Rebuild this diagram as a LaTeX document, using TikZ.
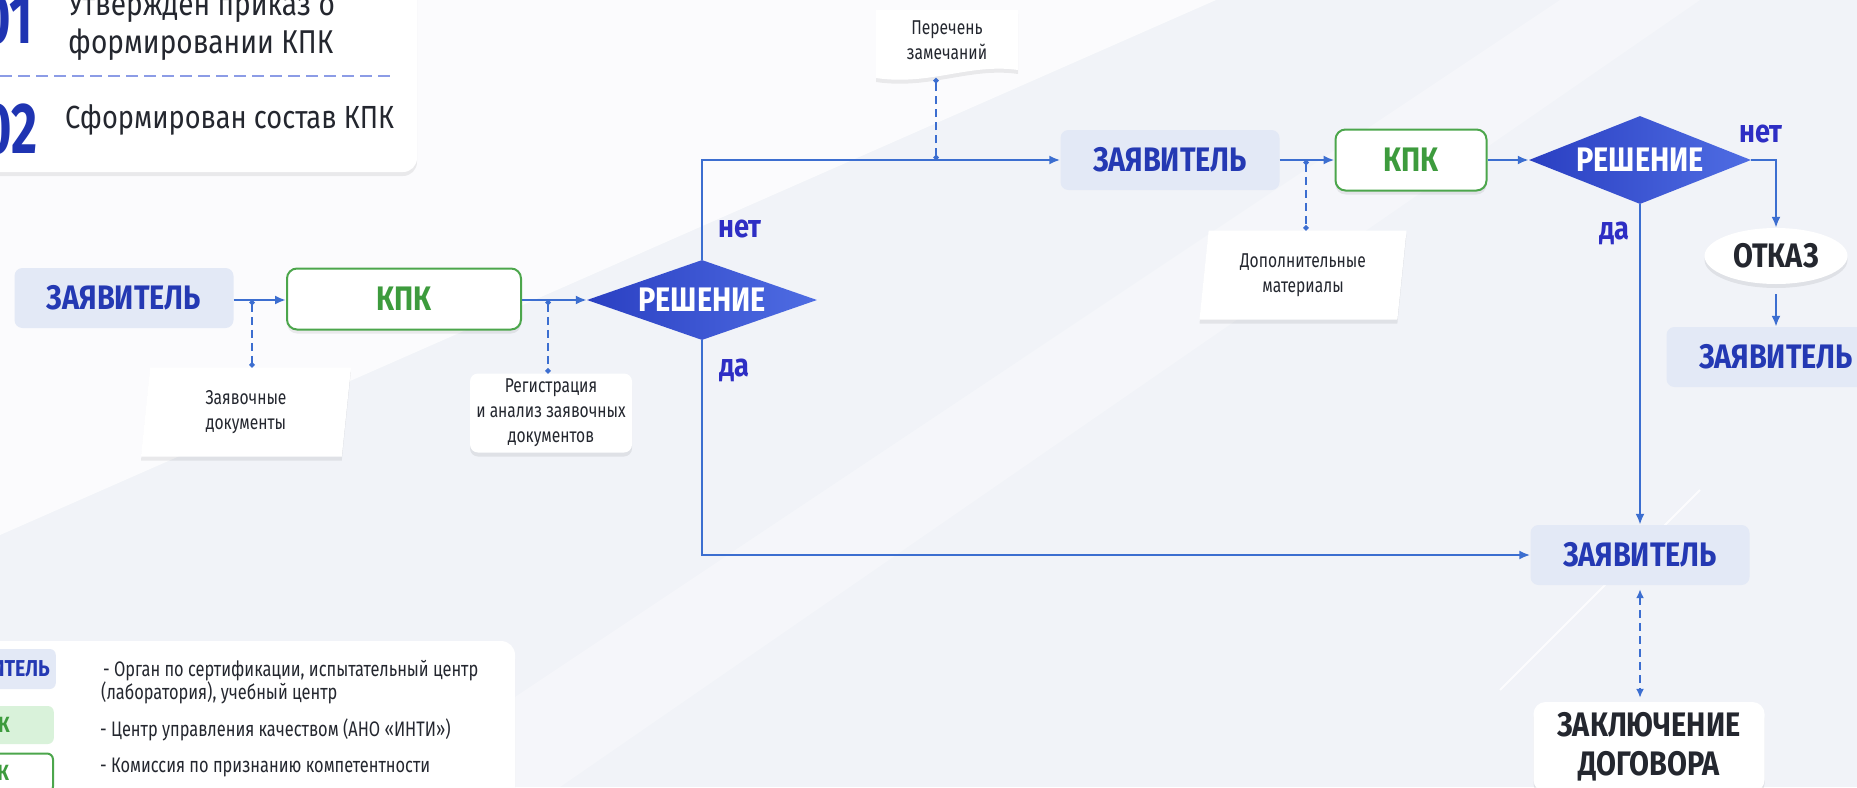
\documentclass[tikz,border=0pt]{standalone}
\usepackage{fontspec}
\setmainfont{Fira Sans}[FakeStretch=0.85]
\newfontfamily\narrowf{Fira Sans}[FakeStretch=0.78]
\newfontfamily\numf{Fira Sans}[FakeStretch=0.7]
\usetikzlibrary{shapes.geometric,arrows.meta,calc,shadows}
\definecolor{bgc}{HTML}{F1F3F8}
\definecolor{zfill}{HTML}{E3E9F6}
\definecolor{ztext}{HTML}{2439B3}
\definecolor{kgreen}{HTML}{4CA64C}
\definecolor{ktext}{HTML}{3D9B3D}
\definecolor{lineb}{HTML}{3C6ED0}
\definecolor{dleft}{HTML}{2A3FC2}
\definecolor{dright}{HTML}{4F6DE3}
\definecolor{yntxt}{HTML}{2E2EC4}
\definecolor{dark}{HTML}{24272F}
\definecolor{lgreen}{HTML}{D9F2DA}
\definecolor{dashc}{HTML}{8C9CE6}
\definecolor{numc}{HTML}{1F34B2}
\tikzset{
  shadowed/.style={drop shadow={shadow xshift=0pt,shadow yshift=-4pt,opacity=0.07,fill=black}},
  boldtxt/.style={font=\fontsize{34}{40}\selectfont\bfseries},
  zbox/.style={boldtxt, fill=zfill, text=ztext, rounded corners=8pt, minimum width=219pt, minimum height=60pt, inner sep=0pt},
  kbox/.style={boldtxt, draw=kgreen, line width=2pt, fill=white, text=ktext, rounded corners=10pt, minimum height=61pt, inner sep=0pt, shadowed},
  dec/.style={diamond, boldtxt, text=white, left color=dleft, right color=dright, inner sep=0pt, aspect=2.8},
  para/.style={trapezium, trapezium left angle=78, trapezium right angle=102, trapezium stretches body, fill=white, shadowed, inner sep=0pt, minimum height=89pt, minimum width=190pt},
  note/.style={font=\narrowf\fontsize{20}{25}\selectfont, text=dark, align=center},
  flow/.style={draw=lineb, line width=2.6pt, -{Latex[length=11pt,width=9pt]}},
  attach/.style={draw=lineb, line width=2.4pt, dash pattern=on 8pt off 5pt, {Circle[length=5pt]}-{Circle[length=5pt]}},
  attach2/.style={draw=lineb, line width=2.4pt, dash pattern=on 8pt off 5pt, {Latex[length=9pt,width=8pt]}-{Latex[length=9pt,width=8pt]}},
  yn/.style={text=yntxt, font=\fontsize{32}{36}\selectfont\bfseries},
  wbox/.style={fill=white, rounded corners=8pt, shadowed, inner sep=0pt},
  legtxt/.style={font=\narrowf\fontsize{21}{23}\selectfont, text=dark, align=left, anchor=west, inner sep=0pt},
  cardtxt/.style={font=\fontsize{33}{38}\selectfont, text=dark, anchor=base west, inner sep=0pt},
  numtxt/.style={font=\numf\fontsize{72}{72}\selectfont\bfseries, text=numc, anchor=base east, inner sep=0pt},
}
\begin{document}
\begin{tikzpicture}[x=1pt,y=-1pt]
\useasboundingbox (0,0) rectangle (1857,787);
\clip (0,0) rectangle (1857,787);
% background
\fill[bgc] (0,0) rectangle (1857,787);
\fill[white, opacity=0.75] (0,0) -- (1216,0) -- (0,535) -- cycle;
\fill[white, opacity=0.3] (380,787) -- (1560,0) -- (1700,0) -- (560,787) -- cycle;
\draw[white, line width=2pt, opacity=0.8] (1500,690) -- (1700,490);

% top-left card
\fill[white, rounded corners=14pt, shadowed] (-30,-30) rectangle (417,172);
\node[numtxt] (n1) at (33,43) {01};
\node[cardtxt] (c1a) at (68,15) {Утвержден приказ о};
\node[cardtxt] (c1b) at (68,53) {формировании КПК};
\draw[dashc, line width=2.5pt, dash pattern=on 12pt off 6pt] (0,76) -- (392,76);
\node[numtxt] (n2) at (38,153) {02};
\node[cardtxt, font=\fontsize{32}{38}\selectfont] (c2) at (65,128) {Сформирован состав КПК};

% legend card
\fill[white, rounded corners=14pt, shadowed] (-30,641) rectangle (515,830);
\node[zbox, font=\fontsize{23}{24}\selectfont\bfseries, minimum width=0pt, minimum height=40pt, text width=200pt, align=right, inner xsep=6pt, rounded corners=6pt, anchor=east] (leg1) at (56,669) {ЗАЯВИТЕЛЬ};
\node[fill=lgreen, text=ktext, font=\fontsize{22}{24}\selectfont\bfseries, minimum height=38pt, text width=100pt, align=right, inner xsep=44pt, inner ysep=0pt, rounded corners=6pt, anchor=east] (leg2) at (54,725) {КПК};
\node[draw=kgreen, line width=2pt, fill=white, text=ktext, font=\fontsize{22}{24}\selectfont\bfseries, minimum height=39pt, text width=100pt, align=right, inner xsep=44pt, inner ysep=0pt, rounded corners=6pt, anchor=east] (leg3) at (54,773) {КПК};
\node[legtxt] (lt1) at (101,682) {\hspace*{2pt}- Орган по сертификации, испытательный центр\\(лаборатория), учебный центр};
\node[legtxt] (lt2) at (100,730) {- Центр управления качеством (АНО «ИНТИ»)};
\node[legtxt] (lt3) at (100,767) {- Комиссия по признанию компетентности};

% row 1
\node[zbox] (z1) at (124,298) {ЗАЯВИТЕЛЬ};
\node[kbox, minimum width=234pt] (k1) at (404,299) {КПК};
\node[dec, minimum width=230pt, minimum height=80pt] (d1) at (702,300) {РЕШЕНИЕ};
\node[para, note, minimum width=210pt] (p1) at (246,412) {Заявочные\\документы};
\node[wbox, note, minimum width=162pt, minimum height=79pt] (r1) at (551,413) {Регистрация\\и анализ заявочных\\документов};

\coordinate (a1) at (252,300);
\coordinate (a2) at (548,300);
\draw[flow] (z1.east |- a1) -- (k1.west |- a1);
\draw[flow] (k1.east |- a2) -- (d1.west);
\draw[attach] (a1) -- (a1 |- p1.north);
\draw[attach] (a2) -- (a2 |- r1.north);

% row 2
\fill[white, shadowed] (876,10) -- (1018,10) -- (1018,70) .. controls (970,63) and (930,86) .. (876,78) -- cycle;
\node[note, minimum width=142pt, minimum height=76pt, inner sep=0pt] (per) at (947,40) {Перечень\\замечаний};
\node[zbox] (z2) at (1170,160) {ЗАЯВИТЕЛЬ};
\node[kbox, minimum width=151pt] (k2) at (1411,160) {КПК};
\node[dec, minimum width=222pt, minimum height=88pt] (d2) at (1640,160) {РЕШЕНИЕ};
\node[para, note, minimum width=207pt] (p2) at (1303,275) {Дополнительные\\материалы};
\node[ellipse, fill=white, shadowed, minimum width=143pt, minimum height=56pt, inner sep=0pt, text=dark, font=\fontsize{34}{36}\selectfont\bfseries] (otk) at (1776,256) {ОТКАЗ};
\node[zbox] (z3) at (1776,357) {ЗАЯВИТЕЛЬ};
\node[zbox] (z4) at (1640,555) {ЗАЯВИТЕЛЬ};
\node[wbox, text=dark, align=center, rounded corners=12pt, minimum width=231pt, minimum height=90pt, font=\fontsize{34}{39}\selectfont\bfseries] (zd) at (1649,747) {ЗАКЛЮЧЕНИЕ\\ДОГОВОРА};

\coordinate (a3) at (936,160);
\coordinate (a4) at (1306,160);
\draw[flow] (d1.north) |- (z2.west);
\draw[flow] (d1.south) |- (z4.west);
\draw[attach] (a3) -- (a3 |- per.south);
\draw[flow] (z2.east) -- (k2.west);
\draw[attach] (a4) -- (a4 |- p2.north);
\draw[flow] (k2.east) -- (d2.west);
\draw[flow] (d2.east) -| (otk.north);
\draw[flow, shorten <=10pt] (otk.south) -- (z3.north);
\draw[flow] (d2.south) -- (d2.south |- z4.north);
\draw[attach2, shorten <=4pt, shorten >=4pt] (z4.south) -- (z4.south |- zd.north);

% labels
\node[yn] (l1) at (740,229) {нет};
\node[yn] (l2) at (734,370) {да};
\node[yn] (l3) at (1761,134) {нет};
\node[yn] (l4) at (1614,233) {да};
\end{tikzpicture}
\end{document}
